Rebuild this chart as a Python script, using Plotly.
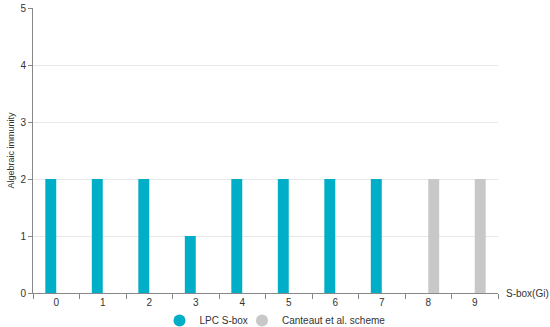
import plotly.graph_objects as go

categories = ["0", "1", "2", "3", "4", "5", "6", "7", "8", "9"]
lpc_values = [2, 2, 2, 1, 2, 2, 2, 2, None, None]
canteaut_values = [None, None, None, None, None, None, None, None, 2, 2]

teal = "#00AEC7"
grey = "#C8C8C8"
font_fam = "Liberation Sans, Arial, sans-serif"

fig = go.Figure()
fig.add_trace(go.Bar(x=categories, y=lpc_values, name="LPC S-box",
                     marker=dict(color=teal, line=dict(width=0)), showlegend=False))
fig.add_trace(go.Bar(x=categories, y=canteaut_values, name="Canteaut et al. scheme",
                     marker=dict(color=grey, line=dict(width=0)), showlegend=False))
# legend entries with circle symbols
fig.add_trace(go.Scatter(x=[None], y=[None], mode="markers", name="LPC S-box",
                         marker=dict(symbol="circle", size=12, color=teal), legend="legend"))
fig.add_trace(go.Scatter(x=[None], y=[None], mode="markers", name="Canteaut et al. scheme",
                         marker=dict(symbol="circle", size=12, color=grey), legend="legend2"))

leg_common = dict(orientation="h", xanchor="left", y=0.02, yanchor="middle",
                  xref="container", yref="container", itemwidth=30,
                  bgcolor="rgba(0,0,0,0)",
                  font=dict(size=10, color="#333333"))

fig.update_layout(
    width=550, height=327,
    margin=dict(l=33, r=52, t=8, b=34, autoexpand=False),
    barmode="group", bargap=0.53, bargroupgap=0,
    plot_bgcolor="white", paper_bgcolor="white",
    font=dict(family=font_fam, size=10, color="#333333"),
    legend=dict(x=0.29, **leg_common),
    legend2=dict(x=0.44, **leg_common),
    xaxis=dict(type="category", showline=True, linecolor="#888888", linewidth=1,
               ticks="outside", tickson="boundaries", ticklen=5, tickcolor="#888888",
               showgrid=False, automargin=False, tickfont=dict(size=10, color="#333333")),
    yaxis=dict(range=[0, 5], dtick=1, showline=True, linecolor="#888888", linewidth=1,
               ticks="outside", ticklen=4, tickcolor="#888888",
               showgrid=True, gridcolor="#E8E8E8", zeroline=False, automargin=False,
               tickfont=dict(size=10, color="#333333")),
    annotations=[
        dict(text="S-box(Gi)", xref="paper", x=1, xanchor="left", xshift=6,
             yref="y", y=0, yanchor="middle", showarrow=False,
             font=dict(size=10, color="#333333")),
        dict(text="Algebraic immunity", xref="paper", x=0, xanchor="center", xshift=-23,
             yref="paper", y=0.5, yanchor="middle", textangle=-90, showarrow=False,
             font=dict(size=9, color="#333333")),
    ],
)

fig.write_html("out.html", config={"displayModeBar": False},
               post_script="document.body.style.margin='0';")
